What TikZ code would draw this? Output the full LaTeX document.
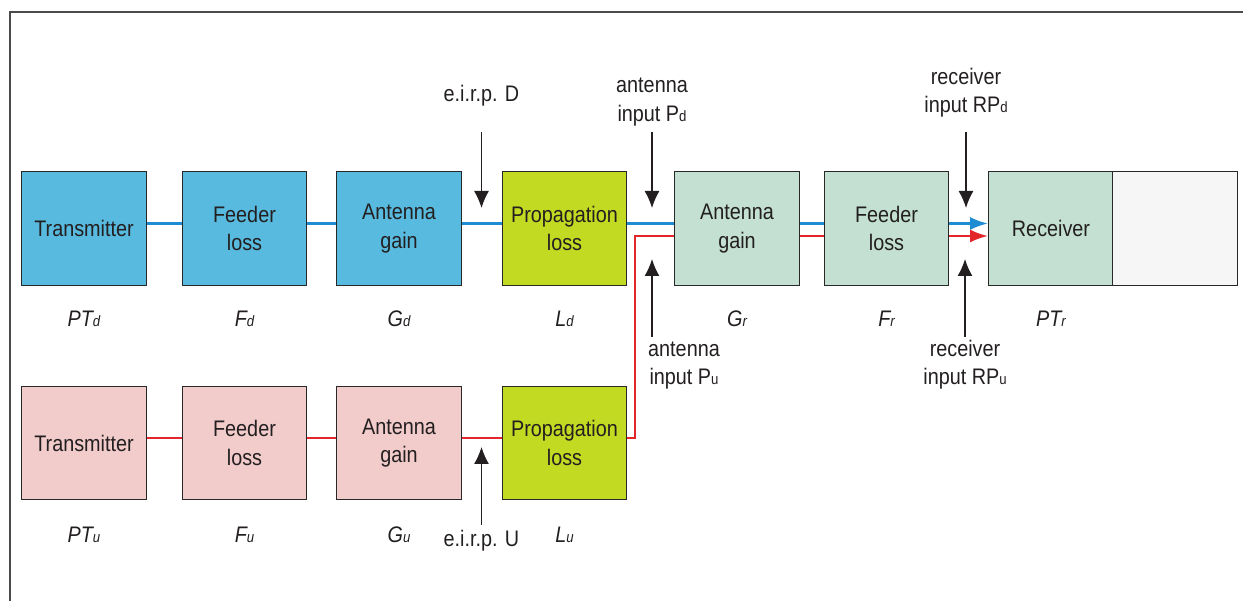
\documentclass[tikz,border=0pt]{standalone}
\usepackage{fontspec}
\setmainfont{Liberation Sans}[FakeStretch=0.88]
\usetikzlibrary{arrows.meta}
\definecolor{bluefill}{RGB}{88,186,222}
\definecolor{pinkfill}{RGB}{242,203,203}
\definecolor{limefill}{RGB}{194,219,34}
\definecolor{mintfill}{RGB}{195,224,210}
\definecolor{grayfill}{RGB}{246,246,246}
\definecolor{blueline}{RGB}{30,140,210}
\definecolor{redline}{RGB}{226,38,42}
\definecolor{boxline}{RGB}{40,40,40}
\definecolor{txt}{RGB}{35,31,32}
\definecolor{framecol}{RGB}{75,75,75}
\newcommand{\sbs}[1]{{\fontsize{15}{15}\selectfont #1}}
\begin{document}
\begin{tikzpicture}[x=1pt,y=-1pt,
  font=\fontsize{22.5}{28.5}\selectfont, text=txt,
  blk/.style={draw=boxline, line width=1.4pt, minimum width=124.5pt, minimum height=113.5pt, inner sep=0pt, align=center},
  lbl/.style={inner sep=0pt, align=center, anchor=base},
  sym/.style={inner sep=0pt, anchor=base, font=\fontsize{22.5}{28.5}\selectfont\itshape},
  bline/.style={draw=blueline, line width=2.4pt},
  rline/.style={draw=redline, line width=2.4pt},
  tip/.style={-{Latex[length=18pt,width=13pt]}},
  arr/.style={draw=txt, line width=1.3pt, -{Latex[length=17pt,width=15pt]}}]
\useasboundingbox (0,0) rectangle (1243,601);
\draw[draw=framecol, line width=1.8pt] (1243,12) -- (10,12) -- (10,601);

% top row (downlink)
\node[blk,fill=bluefill] (tx1) at (84,228.5) {Transmitter};
\node[blk,fill=bluefill] (fd1) at (244.5,228.5) {Feeder\\loss};
\node[blk,fill=bluefill] (an1) at (399,228.5) {Antenna\\gain};
\node[blk,fill=limefill] (pr1) at (564.5,228.5) {Propagation\\loss};
\node[blk,fill=mintfill] (an2) at (737,228.5) {Antenna\\gain};
\node[blk,fill=mintfill] (fd2) at (886.5,228.5) {Feeder\\loss};
\node[blk,fill=mintfill] (rx) at (1051,228.5) {Receiver};
\node[blk,fill=grayfill] (ext) at (1175,228.5) {};

% bottom row (uplink)
\node[blk,fill=pinkfill] (tx2) at (84,443) {Transmitter};
\node[blk,fill=pinkfill] (fd3) at (244.5,443) {Feeder\\loss};
\node[blk,fill=pinkfill] (an3) at (399,443) {Antenna\\gain};
\node[blk,fill=limefill] (pr2) at (564.5,443) {Propagation\\loss};

% blue connectors
\draw[bline] ([yshift=5pt]tx1.east) -- ([yshift=5pt]fd1.west);
\draw[bline] ([yshift=5pt]fd1.east) -- ([yshift=5pt]an1.west);
\draw[bline] ([yshift=5pt]an1.east) -- ([yshift=5pt]pr1.west);
\draw[bline] ([yshift=5pt]pr1.east) -- ([yshift=5pt]an2.west);
\draw[bline] ([yshift=5pt]an2.east) -- ([yshift=5pt]fd2.west);
\draw[bline,tip] ([yshift=5pt]fd2.east) -- ([yshift=5pt]rx.west);

% red connectors
\draw[rline] ([yshift=5pt]tx2.east) -- ([yshift=5pt]fd3.west);
\draw[rline] ([yshift=5pt]fd3.east) -- ([yshift=5pt]an3.west);
\draw[rline] ([yshift=5pt]an3.east) -- ([yshift=5pt]pr2.west);
\draw[rline] ([yshift=5pt]pr2.east) -- ++(7.5,0) |- ([yshift=-7.5pt]an2.west);
\draw[rline] ([yshift=-7.5pt]an2.east) -- ([yshift=-7.5pt]fd2.west);
\draw[rline,tip] ([yshift=-7.5pt]fd2.east) -- ([yshift=-7.5pt]rx.west);

% reference-point labels and arrows
\node[lbl] (eirpD) at (481.5,102) {e.i.r.p. D};
\coordinate (eD0) at (481.5,132); \coordinate (eD1) at (481.5,208);
\draw[arr] (eD0) -- (eD1);

\node[lbl] (aPd) at (652,121.5) {antenna\\input P\sbs{d}};
\coordinate (aPd0) at (652,132); \coordinate (aPd1) at (652,208);
\draw[arr] (aPd0) -- (aPd1);

\node[lbl] (rPd) at (966,113) {receiver\\input RP\sbs{d}};
\coordinate (rPd0) at (966,132); \coordinate (rPd1) at (966,208);
\draw[arr] (rPd0) -- (rPd1);

\node[lbl] (aPu) at (684,385) {antenna\\input P\sbs{u}};
\coordinate (aPu0) at (652,337); \coordinate (aPu1) at (652,259);
\draw[arr] (aPu0) -- (aPu1);

\node[lbl] (rPu) at (965,385) {receiver\\input RP\sbs{u}};
\coordinate (rPu0) at (965,337); \coordinate (rPu1) at (965,259);
\draw[arr] (rPu0) -- (rPu1);

\node[lbl] (eirpU) at (481.5,547) {e.i.r.p. U};
\coordinate (eU0) at (481.5,525); \coordinate (eU1) at (481.5,447);
\draw[arr] (eU0) -- (eU1);

% parameter symbols
\node[sym] (ptd) at (84,327) {PT\sbs{d}};
\node[sym] (fdd) at (244.5,327) {F\sbs{d}};
\node[sym] (gdd) at (399,327) {G\sbs{d}};
\node[sym] (ldd) at (564.5,327) {L\sbs{d}};
\node[sym] (grr) at (737,327) {G\sbs{r}};
\node[sym] (frr) at (886.5,327) {F\sbs{r}};
\node[sym] (ptr) at (1051,327) {PT\sbs{r}};
\node[sym] (ptu) at (84,543) {PT\sbs{u}};
\node[sym] (fuu) at (244.5,543) {F\sbs{u}};
\node[sym] (guu) at (399,543) {G\sbs{u}};
\node[sym] (luu) at (564.5,543) {L\sbs{u}};
\end{tikzpicture}
\end{document}
